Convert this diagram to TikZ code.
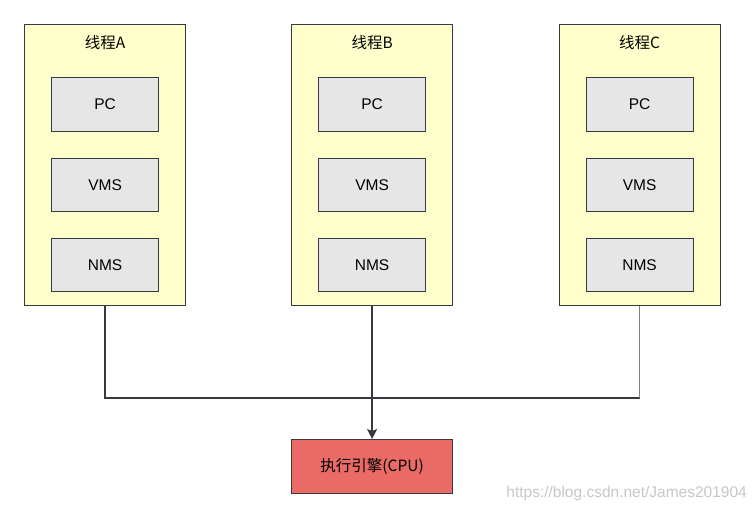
\documentclass[tikz,border=0pt]{standalone}
\usepackage{fontspec}
\setmainfont{Liberation Sans}
\newfontfamily\cjk{Noto Sans CJK SC}
\usetikzlibrary{arrows.meta,positioning}
\definecolor{thr}{HTML}{FFFFCC}
\definecolor{reg}{HTML}{E6E6E6}
\definecolor{cpuc}{HTML}{EA6B66}
\definecolor{edge}{HTML}{36393D}
\begin{document}
\begin{tikzpicture}[x=1pt,y=-1pt,
  thread/.style={draw=edge,fill=thr,line width=1.2pt,minimum width=161pt,minimum height=281pt,anchor=north west,inner sep=0pt},
  regbox/.style={draw=edge,fill=reg,line width=1.2pt,minimum width=107pt,minimum height=53.5pt,inner sep=0pt,font=\fontsize{15.5}{18}\selectfont},
  ttl/.style={font=\cjk\fontsize{15.5}{18}\selectfont,inner sep=0pt},
  conn/.style={draw=edge,line width=1.3pt},
  tip/.style={-{Stealth[length=10pt,width=10pt,inset=2pt]}}
]
\useasboundingbox (0,0) rectangle (755,512);
\foreach \n/\x/\l in {A/24/A,B/291/B,C/558.5/C}{
  \node[thread] (t\n) at (\x,24) {};
  \node[ttl] (h\n) at ([yshift=-19pt]t\n.north) {线程\l};
  \node[regbox] (pc\n) at ([yshift=-80.5pt]t\n.north) {PC};
  \node[regbox] (vms\n) at ([yshift=-161pt]t\n.north) {VMS};
  \node[regbox] (nms\n) at ([yshift=-241pt]t\n.north) {NMS};
}
\node[draw=edge,fill=cpuc,line width=1.2pt,minimum width=161pt,minimum height=53.5pt,inner sep=0pt,anchor=north west,font=\cjk\fontsize{15.5}{18}\selectfont] (cpu) at (291,439) {执行引擎(CPU)};
\coordinate (jA) at (tA.south |- 0,398);
\coordinate (jC) at (tC.south |- 0,398);
\draw[conn] (tA.south) -- (jA) -- (jC);
\draw[conn,draw=gray] (tC.south) -- (jC);
\draw[conn,tip] (tB.south) -- (cpu.north);
\node[anchor=east,text=black!22,font=\fontsize{15.5}{18}\selectfont,inner sep=0pt] (wm) at (747,493) {https://blog.csdn.net/James201904};
\end{tikzpicture}
\end{document}
